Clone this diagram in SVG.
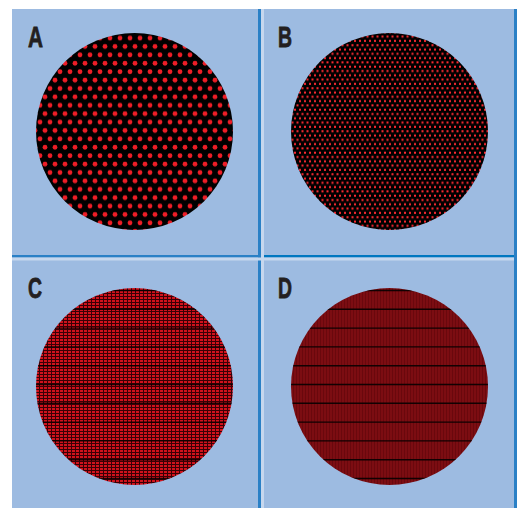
<svg xmlns="http://www.w3.org/2000/svg" width="517" height="508" viewBox="0 0 517 508">
  <style>
    .panel { fill: #9DBBE1; }
    .dark { fill: #2A80C6; }
    .light { fill: #C6D7EE; }
    .lbl { font-family: "Liberation Sans Narrow", "Liberation Sans", Arial, sans-serif; font-weight: 900; font-size: 30px; fill: #231F20; stroke: #231F20; stroke-width: 0.8; }
    .stripe { stroke: #000; stroke-width: 1.4; opacity: 0.85; }
  </style>
  <defs>
    <pattern id="dotsA" patternUnits="userSpaceOnUse" x="0" y="59.1" width="10" height="16.8">
      <rect width="10" height="16.8" fill="#000"/>
      <circle cx="5" cy="4.2" r="2.4" fill="#EE1D26"/>
      <circle cx="0" cy="12.6" r="2.4" fill="#EE1D26"/>
      <circle cx="10" cy="12.6" r="2.4" fill="#EE1D26"/>
    </pattern>
    <pattern id="dotsB" patternUnits="userSpaceOnUse" x="0" y="0" width="5" height="8.6">
      <rect width="5" height="8.6" fill="#000"/>
      <rect x="1.5" y="1.2" width="2" height="2" fill="#FF2A32"/>
      <rect x="-1" y="5.5" width="2" height="2" fill="#FF2A32"/>
      <rect x="4" y="5.5" width="2" height="2" fill="#FF2A32"/>
    </pattern>
    <pattern id="meshC" patternUnits="userSpaceOnUse" x="0" y="0" width="4" height="3">
      <rect width="4" height="3" fill="#3A0005"/>
      <rect x="0" y="0" width="3" height="2" fill="#D0121C"/>
    </pattern>
    <pattern id="meshD" patternUnits="userSpaceOnUse" x="0" y="0" width="3" height="3">
      <rect width="3" height="3" fill="#7C0D12"/>
      <rect x="2" y="0" width="1" height="3" fill="#6A080D"/>
    </pattern>
    <clipPath id="clipC"><circle cx="134.5" cy="386.5" r="98.5"/></clipPath>
    <clipPath id="clipD"><circle cx="389.5" cy="386.5" r="98.5"/></clipPath>
  </defs>

  <rect width="517" height="508" fill="#FFFFFF"/>

  <g id="frame">
    <rect class="panel" x="12" y="9" width="505" height="499"/>
    <rect class="dark" x="258" y="9" width="3" height="499"/>
    <rect class="light" x="261" y="9" width="3" height="499"/>
    <rect class="dark" x="12" y="255" width="246" height="2.5"/>
    <rect fill="#0077C0" x="264" y="255" width="250" height="2.5"/>
    <rect class="light" x="12" y="257.5" width="502" height="3"/>
    <rect class="dark" x="514" y="9" width="3" height="499"/>
  </g>

  <g id="panelA">
    <circle cx="134.5" cy="131.5" r="98.5" fill="url(#dotsA)"/>
    <text class="lbl" x="28" y="47" textLength="15" lengthAdjust="spacingAndGlyphs">A</text>
  </g>

  <g id="panelB">
    <circle cx="389.5" cy="131.5" r="98.5" fill="url(#dotsB)"/>
    <text class="lbl" x="278" y="47" textLength="14" lengthAdjust="spacingAndGlyphs">B</text>
  </g>

  <g id="panelC">
    <circle cx="134.5" cy="386.5" r="98.5" fill="url(#meshC)"/>
    <g clip-path="url(#clipC)">
      <line class="stripe" x1="30" y1="290.5" x2="240" y2="290.5"/>
      <line class="stripe" x1="30" y1="309.3" x2="240" y2="309.3"/>
      <line class="stripe" x1="30" y1="328.1" x2="240" y2="328.1"/>
      <line class="stripe" x1="30" y1="346.9" x2="240" y2="346.9"/>
      <line class="stripe" x1="30" y1="365.7" x2="240" y2="365.7"/>
      <line class="stripe" x1="30" y1="384.5" x2="240" y2="384.5"/>
      <line class="stripe" x1="30" y1="403.3" x2="240" y2="403.3"/>
      <line class="stripe" x1="30" y1="422.1" x2="240" y2="422.1"/>
      <line class="stripe" x1="30" y1="440.9" x2="240" y2="440.9"/>
      <line class="stripe" x1="30" y1="459.7" x2="240" y2="459.7"/>
      <line class="stripe" x1="30" y1="478.5" x2="240" y2="478.5"/>
    </g>
    <text class="lbl" x="28" y="298" textLength="14" lengthAdjust="spacingAndGlyphs">C</text>
  </g>

  <g id="panelD">
    <circle cx="389.5" cy="386.5" r="98.5" fill="url(#meshD)"/>
    <g clip-path="url(#clipD)">
      <line class="stripe" x1="285" y1="290.5" x2="495" y2="290.5"/>
      <line class="stripe" x1="285" y1="309.3" x2="495" y2="309.3"/>
      <line class="stripe" x1="285" y1="328.1" x2="495" y2="328.1"/>
      <line class="stripe" x1="285" y1="346.9" x2="495" y2="346.9"/>
      <line class="stripe" x1="285" y1="365.7" x2="495" y2="365.7"/>
      <line class="stripe" x1="285" y1="384.5" x2="495" y2="384.5"/>
      <line class="stripe" x1="285" y1="403.3" x2="495" y2="403.3"/>
      <line class="stripe" x1="285" y1="422.1" x2="495" y2="422.1"/>
      <line class="stripe" x1="285" y1="440.9" x2="495" y2="440.9"/>
      <line class="stripe" x1="285" y1="459.7" x2="495" y2="459.7"/>
      <line class="stripe" x1="285" y1="478.5" x2="495" y2="478.5"/>
    </g>
    <text class="lbl" x="278" y="298" textLength="14" lengthAdjust="spacingAndGlyphs">D</text>
  </g>

  <g id="connectors"/>
</svg>
